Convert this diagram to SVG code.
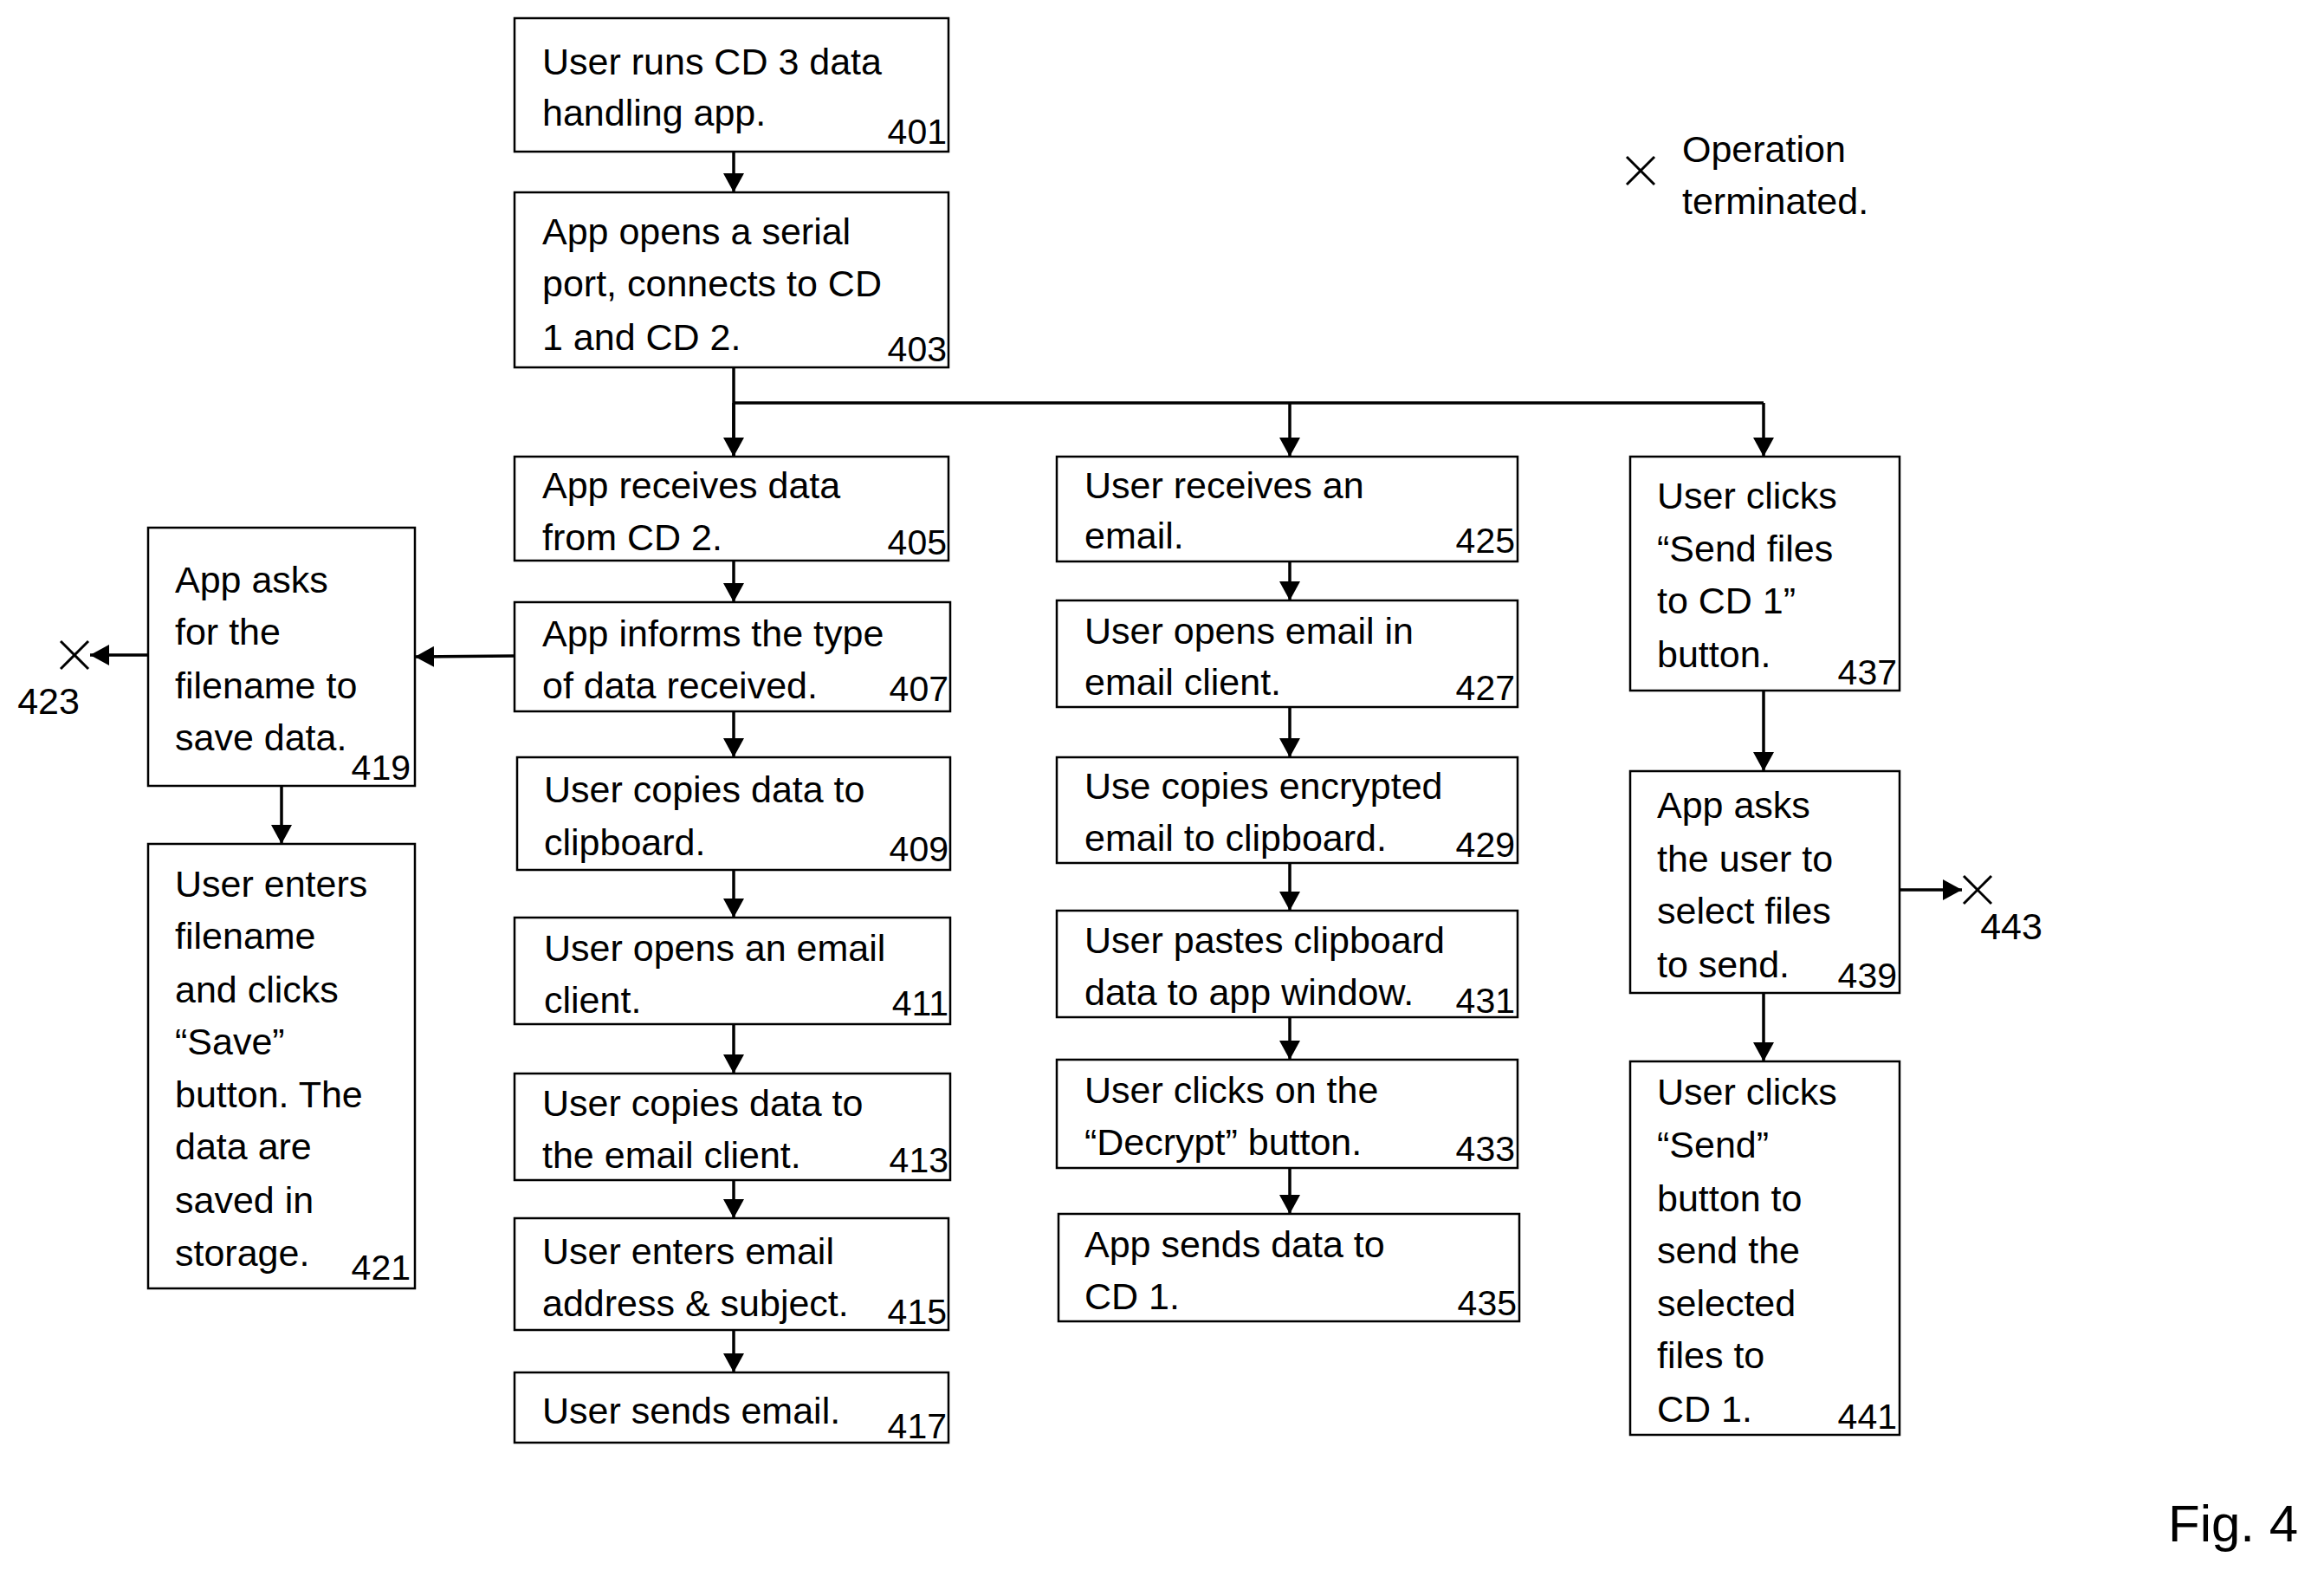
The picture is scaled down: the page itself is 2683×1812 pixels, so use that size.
<svg xmlns="http://www.w3.org/2000/svg" width="2683" height="1812" viewBox="0 0 2683 1812">
<style>
rect{fill:#fff;stroke:#000;stroke-width:2.5}
text{font-family:"Liberation Sans",Arial,sans-serif;font-size:43px;fill:#000}
.n{text-anchor:end;font-size:41px}
.c line,.c path{stroke:#000;stroke-width:3.5;fill:none}
.x line{stroke:#000;stroke-width:3}
</style>
<defs><marker id="a" markerUnits="userSpaceOnUse" markerWidth="22" markerHeight="24" refX="22" refY="12" orient="auto"><path d="M0,0L22,12L0,24z" fill="#000"/></marker></defs>
<rect width="2683" height="1812" style="fill:#fff;stroke:none"/>
<g id="n401"><rect x="594" y="21" width="501" height="154"/><text x="626" y="86">User runs CD 3 data</text><text x="626" y="145">handling app.</text><text class="n" x="1093" y="166">401</text></g>
<g id="n403"><rect x="594" y="222" width="501" height="202"/><text x="626" y="282">App opens a serial</text><text x="626" y="342">port, connects to CD</text><text x="626" y="404">1 and CD 2.</text><text class="n" x="1093" y="417">403</text></g>
<g id="n405"><rect x="594" y="527" width="501" height="120"/><text x="626" y="575">App receives data</text><text x="626" y="635">from CD 2.</text><text class="n" x="1093" y="640">405</text></g>
<g id="n407"><rect x="594" y="695" width="503" height="126"/><text x="626" y="746">App informs the type</text><text x="626" y="806">of data received.</text><text class="n" x="1095" y="809">407</text></g>
<g id="n409"><rect x="597" y="874" width="500" height="130"/><text x="628" y="926">User copies data to</text><text x="628" y="987">clipboard.</text><text class="n" x="1095" y="994">409</text></g>
<g id="n411"><rect x="594" y="1059" width="503" height="123"/><text x="628" y="1109">User opens an email</text><text x="628" y="1169">client.</text><text class="n" x="1095" y="1172">411</text></g>
<g id="n413"><rect x="594" y="1239" width="503" height="123"/><text x="626" y="1288">User copies data to</text><text x="626" y="1348">the email client.</text><text class="n" x="1095" y="1353">413</text></g>
<g id="n415"><rect x="594" y="1406" width="501" height="129"/><text x="626" y="1459">User enters email</text><text x="626" y="1519">address &amp; subject.</text><text class="n" x="1093" y="1528">415</text></g>
<g id="n417"><rect x="594" y="1584" width="501" height="81"/><text x="626" y="1643">User sends email.</text><text class="n" x="1093" y="1660">417</text></g>
<g id="n425"><rect x="1220" y="527" width="532" height="121"/><text x="1252" y="575">User receives an</text><text x="1252" y="633">email.</text><text class="n" x="1749" y="638">425</text></g>
<g id="n427"><rect x="1220" y="693" width="532" height="123"/><text x="1252" y="743">User opens email in</text><text x="1252" y="802">email client.</text><text class="n" x="1749" y="808">427</text></g>
<g id="n429"><rect x="1220" y="874" width="532" height="122"/><text x="1252" y="922">Use copies encrypted</text><text x="1252" y="982">email to clipboard.</text><text class="n" x="1749" y="989">429</text></g>
<g id="n431"><rect x="1220" y="1051" width="532" height="123"/><text x="1252" y="1100">User pastes clipboard</text><text x="1252" y="1160">data to app window.</text><text class="n" x="1749" y="1169">431</text></g>
<g id="n433"><rect x="1220" y="1223" width="532" height="125"/><text x="1252" y="1273">User clicks on the</text><text x="1252" y="1333">“Decrypt” button.</text><text class="n" x="1749" y="1340">433</text></g>
<g id="n435"><rect x="1222" y="1401" width="532" height="124"/><text x="1252" y="1451">App sends data to</text><text x="1252" y="1511">CD 1.</text><text class="n" x="1751" y="1518">435</text></g>
<g id="n437"><rect x="1882" y="527" width="311" height="270"/><text x="1913" y="587">User clicks</text><text x="1913" y="648">“Send files</text><text x="1913" y="708">to CD 1”</text><text x="1913" y="770">button.</text><text class="n" x="2190" y="790">437</text></g>
<g id="n439"><rect x="1882" y="890" width="311" height="256"/><text x="1913" y="944">App asks</text><text x="1913" y="1006">the user to</text><text x="1913" y="1066">select files</text><text x="1913" y="1128">to send.</text><text class="n" x="2190" y="1140">439</text></g>
<g id="n441"><rect x="1882" y="1225" width="311" height="431"/><text x="1913" y="1275">User clicks</text><text x="1913" y="1336">“Send”</text><text x="1913" y="1398">button to</text><text x="1913" y="1458">send the</text><text x="1913" y="1519">selected</text><text x="1913" y="1579">files to</text><text x="1913" y="1641">CD 1.</text><text class="n" x="2190" y="1649">441</text></g>
<g id="n419"><rect x="171" y="609" width="308" height="298"/><text x="202" y="684">App asks</text><text x="202" y="744">for the</text><text x="202" y="806">filename to</text><text x="202" y="866">save data.</text><text class="n" x="474" y="900">419</text></g>
<g id="n421"><rect x="171" y="974" width="308" height="513"/><text x="202" y="1035">User enters</text><text x="202" y="1095">filename</text><text x="202" y="1157">and clicks</text><text x="202" y="1217">“Save”</text><text x="202" y="1278">button. The</text><text x="202" y="1338">data are</text><text x="202" y="1400">saved in</text><text x="202" y="1461">storage.</text><text class="n" x="474" y="1477">421</text></g>
<g id="n423" class="x"><line x1="70" y1="740" x2="102" y2="772"/><line x1="102" y1="740" x2="70" y2="772"/><text x="56" y="824" text-anchor="middle">423</text></g>
<g id="n443" class="x"><line x1="2267" y1="1011" x2="2299" y2="1043"/><line x1="2299" y1="1011" x2="2267" y2="1043"/><text x="2322" y="1084" text-anchor="middle">443</text></g>
<g id="legend" class="x"><line x1="1878" y1="181" x2="1910" y2="213"/><line x1="1910" y1="181" x2="1878" y2="213"/><text x="1942" y="187">Operation</text><text x="1942" y="247">terminated.</text></g>
<text x="2503" y="1779" style="font-size:60px">Fig. 4</text>
<g class="c">
<line x1="847" y1="175" x2="847" y2="222" marker-end="url(#a)"/>
<path d="M847,424V527"/><line x1="847" y1="465" x2="847" y2="527" marker-end="url(#a)"/>
<path d="M847,465H2036"/>
<line x1="1489" y1="465" x2="1489" y2="527" marker-end="url(#a)"/>
<line x1="2036" y1="465" x2="2036" y2="527" marker-end="url(#a)"/>
<line x1="847" y1="647" x2="847" y2="695" marker-end="url(#a)"/>
<line x1="847" y1="821" x2="847" y2="874" marker-end="url(#a)"/>
<line x1="847" y1="1004" x2="847" y2="1059" marker-end="url(#a)"/>
<line x1="847" y1="1182" x2="847" y2="1239" marker-end="url(#a)"/>
<line x1="847" y1="1362" x2="847" y2="1406" marker-end="url(#a)"/>
<line x1="847" y1="1535" x2="847" y2="1584" marker-end="url(#a)"/>
<line x1="1489" y1="648" x2="1489" y2="693" marker-end="url(#a)"/>
<line x1="1489" y1="816" x2="1489" y2="874" marker-end="url(#a)"/>
<line x1="1489" y1="996" x2="1489" y2="1051" marker-end="url(#a)"/>
<line x1="1489" y1="1174" x2="1489" y2="1223" marker-end="url(#a)"/>
<line x1="1489" y1="1348" x2="1489" y2="1401" marker-end="url(#a)"/>
<line x1="2036" y1="797" x2="2036" y2="890" marker-end="url(#a)"/>
<line x1="2036" y1="1146" x2="2036" y2="1225" marker-end="url(#a)"/>
<line x1="325" y1="907" x2="325" y2="974" marker-end="url(#a)"/>
<line x1="594" y1="757" x2="479" y2="758" marker-end="url(#a)"/>
<line x1="171" y1="756" x2="104" y2="756" marker-end="url(#a)"/>
<line x1="2193" y1="1027" x2="2265" y2="1027" marker-end="url(#a)"/>
</g>
</svg>
